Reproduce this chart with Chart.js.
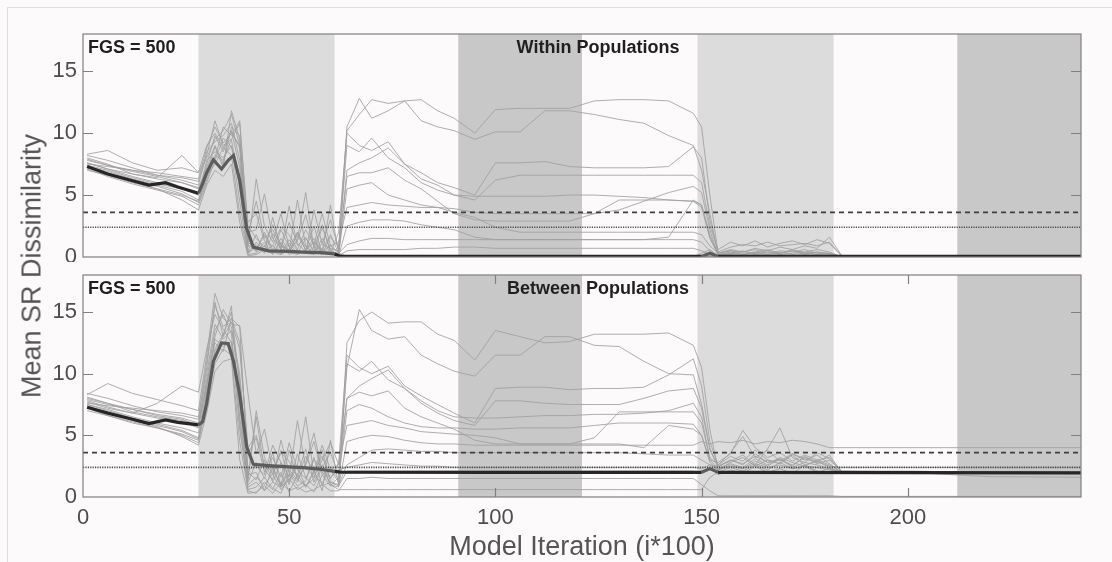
<!DOCTYPE html>
<html lang="en">
<head>
<meta charset="UTF-8">
<title>Mean SR Dissimilarity</title>
<script src="https://cdn.jsdelivr.net/npm/chart.js@4.4.1/dist/chart.umd.min.js"></script>
<style>
  html, body { margin: 0; padding: 0; background: #fdfafc; overflow: hidden; }
  #page { position: relative; width: 1112px; height: 562px; }
  #frame { position: absolute; left: 7px; top: 7px; right: 0; bottom: 0;
           border-top: 1px solid #dedede; border-left: 1px solid #dedede; }
  #topChart { position: absolute; left: 0; top: 0; }
  #botChart { position: absolute; left: 0; top: 262px; }
  #yTitle { position: absolute; left: 32px; top: 266px; transform: translate(-50%, -50%) rotate(-90deg);
            font: 27px "Liberation Sans", Arial, sans-serif; color: #555; white-space: nowrap; }
</style>
</head>
<body>
<div id="page">
  <div id="frame"></div>
  <canvas id="topChart" width="1112" height="262"></canvas>
  <canvas id="botChart" width="1112" height="300"></canvas>
  <div id="yTitle">Mean SR Dissimilarity</div>
</div>

<script>
// iteration grid (i*100) shared by all the single runs
const iters = [1, 6, 12, 18, 24, 28, 30, 32, 34, 36, 38, 40,
  42, 44, 46, 48, 50, 52, 54, 56, 58, 60, 62,
  64, 67, 70, 74, 78, 82, 86, 90, 95, 100, 106, 112, 118, 124, 130, 136, 142, 148,
  150, 152, 154, 157, 160, 163, 166, 169, 172, 175, 178, 181,
  184, 200, 220, 242];

// grid of the mean curve
const meanIters = [1, 6, 12, 16, 20, 23, 28, 29, 30, 31.6, 33.6, 35.2, 36.5, 38, 39.7, 41.3,
  45, 50, 53.4, 57.5, 61, 62.5, 100, 150, 152, 154, 242];
const withinMean = [7.3, 6.7, 6.15, 5.8, 6.0, 5.65, 5.15, 5.9, 6.8, 7.85, 7.1, 7.8, 8.2, 6.2, 2.3, 0.8,
  0.5, 0.45, 0.4, 0.35, 0.25, 0.05, 0.05, 0.05, 0.3, 0.05, 0.05];
const betweenMean = [7.28, 6.8, 6.3, 5.95, 6.25, 6.05, 5.85, 6.1, 7.6, 11.0, 12.5, 12.45, 11.0, 8.3, 4.06, 2.65,
  2.55, 2.45, 2.38, 2.25, 2.08, 2.02, 2.0, 2.0, 2.3, 2.0, 1.96];

// within populations, single runs
const within01 = [7.6, 7.1, 6.5, 6.0, 5.6, 5.0, 7.5, 9.8, 8.5, 10.2, 8.8, 1.2,
  0.6, 1.8, 0.4, 2.2, 0.8, 0.3, 1.5, 0.5, 0.2, 0.9, 0.4,
  10.2, 11.5, 12.7, 12.4, 12.6, 12.7, 11.8, 11.2, 10.0, 11.9, 12.0, 12.0, 12.0, 12.6, 12.7, 12.7, 12.6, 11.6,
  10.5, 5.0, 0.3, 0.5, 0.4, 0.6, 0.3, 0.5, 0.4, 0.6, 0.3, 0.2,
  0.05, 0.02, 0.02, 0.02];
const within02 = [8.2, 7.8, 7.2, 6.6, 6.4, 6.1, 8.2, 11.0, 9.0, 9.5, 10.8, 2.5,
  1.5, 0.8, 2.6, 1.0, 0.5, 1.8, 0.6, 1.2, 0.3, 1.6, 0.8,
  10.5, 12.8, 11.2, 11.8, 12.6, 11.0, 10.5, 10.2, 9.5, 10.1, 10.1, 11.8, 11.8, 11.5, 11.1, 10.8, 9.8, 9.0,
  7.0, 3.5, 0.2, 0.3, 0.5, 0.2, 0.4, 0.3, 0.6, 0.3, 0.4, 0.3,
  0.03, 0.03, 0.02, 0.02];
const within03 = [7.3, 6.9, 6.3, 5.8, 5.3, 4.6, 6.8, 8.9, 7.2, 11.8, 9.5, 0.8,
  6.3, 2.5, 1.2, 3.5, 0.8, 2.0, 0.5, 1.2, 0.6, 0.3, 2.0,
  10.0, 9.0, 8.6, 9.3, 7.5, 6.8, 6.0, 5.6, 5.0, 7.6, 7.6, 7.7, 7.3, 7.2, 7.2, 7.2, 7.3, 8.9,
  8.0, 3.0, 0.4, 0.8, 1.0, 0.9, 1.2, 0.9, 1.0, 1.1, 0.9, 1.2,
  0.1, 0.1, 0.05, 0.05];
const within04 = [8.0, 7.5, 6.7, 6.3, 6.0, 5.5, 7.0, 8.0, 10.5, 9.8, 11.0, 2.0,
  2.2, 5.1, 1.5, 0.7, 2.8, 1.1, 0.4, 3.8, 1.0, 0.7, 0.5,
  9.0, 8.5, 9.6, 8.0, 7.2, 6.0, 5.4, 5.0, 4.6, 6.2, 6.6, 6.6, 6.6, 6.6, 6.6, 6.6, 6.6, 6.6,
  6.0, 2.5, 0.6, 1.2, 0.9, 1.3, 0.8, 1.1, 1.3, 1.0, 1.4, 1.1,
  0.05, 0.05, 0.05, 0.05];
const within05 = [7.1, 6.5, 5.9, 5.4, 4.9, 4.2, 6.0, 7.8, 9.6, 8.9, 6.5, 0.4,
  1.0, 0.3, 1.9, 0.6, 4.1, 0.9, 1.6, 0.4, 2.4, 0.6, 0.2,
  7.0, 7.6, 8.0, 8.8, 7.5, 6.3, 5.8, 5.0, 4.9, 4.9, 4.9, 4.9, 5.0, 5.0, 4.9, 4.8, 4.6, 4.5,
  4.2, 1.8, 0.3, 0.5, 0.3, 0.4, 0.6, 0.3, 0.5, 0.4, 0.6, 0.4,
  0.02, 0.02, 0.02, 0.02];
const within06 = [7.8, 7.4, 7.0, 6.6, 6.2, 5.8, 8.5, 9.3, 9.8, 10.8, 7.8, 1.5,
  0.4, 1.2, 0.2, 1.5, 0.5, 4.6, 0.9, 0.3, 1.1, 3.0, 0.6,
  6.5, 6.8, 6.8, 7.2, 6.2, 5.5, 4.5, 3.5, 3.0, 2.9, 2.9, 2.9, 2.9, 3.5, 4.6, 4.6, 4.6, 4.5,
  4.0, 1.5, 0.2, 0.4, 0.2, 0.3, 0.5, 0.2, 0.3, 0.4, 0.2, 0.3,
  0.02, 0.02, 0.02, 0.02];
const within07 = [7.4, 7.0, 6.4, 5.9, 5.5, 5.0, 7.8, 8.5, 8.0, 9.0, 4.5, 0.3,
  0.8, 0.5, 0.9, 0.2, 0.6, 1.4, 5.2, 0.7, 0.4, 1.0, 0.2,
  5.5, 5.8, 6.0, 5.0, 4.6, 4.2, 4.0, 3.9, 3.6, 3.5, 3.5, 3.5, 3.5, 3.5, 3.8, 4.5, 5.2, 5.7,
  5.2, 2.2, 0.1, 0.3, 0.2, 0.4, 0.2, 0.3, 0.5, 0.2, 0.4, 0.2,
  0.02, 0.02, 0.02, 0.02];
const within08 = [7.5, 7.3, 7.0, 6.8, 6.5, 6.3, 8.8, 10.5, 9.2, 10.0, 9.0, 2.8,
  3.5, 1.3, 0.9, 2.4, 1.8, 0.6, 2.2, 1.0, 3.5, 0.9, 1.2,
  4.0, 4.2, 4.4, 4.2, 4.1, 4.0, 4.0, 3.6, 3.2, 2.4, 2.0, 2.0, 2.0, 2.0, 2.0, 2.0, 2.0, 2.0,
  1.8, 0.9, 0.3, 0.6, 0.4, 0.7, 0.5, 0.8, 0.6, 0.9, 0.7, 1.6,
  0.1, 0.05, 0.05, 0.05];
const within09 = [7.0, 6.6, 6.0, 5.5, 5.0, 4.5, 6.5, 7.5, 8.8, 8.2, 3.5, 0.2,
  0.3, 0.9, 0.4, 0.2, 1.1, 0.3, 0.5, 2.5, 0.3, 0.5, 0.1,
  2.5, 2.8, 3.0, 3.0, 2.9, 2.6, 2.4, 2.2, 1.6, 1.4, 1.4, 1.4, 1.4, 1.4, 1.4, 1.4, 1.6, 4.6,
  4.2, 1.6, 0.2, 0.3, 0.2, 0.3, 0.2, 0.4, 0.2, 0.3, 0.2, 0.3,
  0.02, 0.02, 0.02, 0.02];
const within10 = [7.9, 7.4, 6.9, 6.5, 6.0, 5.6, 7.2, 9.0, 7.5, 10.5, 9.8, 1.0,
  0.5, 2.0, 0.6, 0.3, 1.4, 0.5, 0.3, 0.8, 2.6, 0.4, 0.3,
  1.0, 1.3, 1.5, 1.5, 1.4, 1.4, 1.4, 1.4, 1.4, 1.4, 1.4, 1.4, 1.4, 1.4, 1.4, 1.4, 1.4, 1.4,
  1.2, 0.5, 0.1, 0.2, 0.1, 0.2, 0.1, 0.2, 0.1, 0.2, 0.1, 0.1,
  0.02, 0.02, 0.02, 0.02];
const within11 = [7.2, 6.8, 6.1, 5.5, 4.6, 3.8, 5.8, 7.0, 6.5, 7.5, 2.8, 0.1,
  0.2, 0.6, 0.3, 0.9, 0.2, 0.5, 0.3, 0.2, 0.6, 0.2, 0.1,
  0.5, 0.6, 0.6, 0.6, 0.6, 0.7, 0.7, 0.8, 0.8, 0.7, 0.7, 0.7, 0.7, 0.7, 0.7, 0.7, 0.7, 0.7,
  0.5, 0.2, 0.05, 0.05, 0.05, 0.05, 0.05, 0.05, 0.05, 0.05, 0.05, 0.05,
  0.02, 0.02, 0.02, 0.02];
const within12 = [8.3, 8.6, 7.6, 7.0, 7.2, 6.8, 8.0, 9.5, 10.2, 11.5, 9.0, 0.5,
  1.8, 0.4, 3.2, 0.6, 0.3, 2.0, 0.8, 0.3, 1.5, 0.3, 0.05,
  0.05, 0.05, 0.05, 0.05, 0.05, 0.05, 0.05, 0.05, 0.05, 0.05, 0.05, 0.05, 0.05, 0.05, 0.05, 0.05, 0.05, 0.05,
  0.05, 0.1, 0.05, 0.2, 0.05, 0.1, 0.05, 0.15, 0.05, 0.1, 0.05, 0.05,
  0.05, 0.05, 0.05, 0.05];
const within13 = [7.6, 7.1, 6.7, 6.4, 8.2, 6.8, 9.0, 10.0, 8.8, 10.2, 7.2, 1.8,
  4.5, 1.5, 2.2, 0.9, 0.5, 1.3, 3.4, 0.8, 0.6, 1.8, 0.3,
  0.05, 0.05, 0.05, 0.05, 0.05, 0.05, 0.05, 0.05, 0.05, 0.05, 0.05, 0.05, 0.05, 0.05, 0.05, 0.05, 0.05, 0.05,
  0.3, 0.6, 0.1, 0.1, 0.1, 0.1, 0.1, 0.1, 0.1, 0.1, 0.1, 0.1,
  0.05, 0.05, 0.05, 0.05];
const within14 = [7.3, 6.7, 6.2, 5.7, 5.1, 4.4, 6.2, 8.2, 7.8, 9.5, 5.5, 0.3,
  1.2, 0.5, 0.3, 1.2, 0.4, 0.2, 0.6, 1.5, 0.4, 4.2, 0.2,
  0.05, 0.05, 0.05, 0.05, 0.05, 0.05, 0.05, 0.05, 0.05, 0.05, 0.05, 0.05, 0.05, 0.05, 0.05, 0.05, 0.05, 0.05,
  0.05, 0.05, 0.05, 0.05, 0.05, 0.05, 0.05, 0.05, 0.05, 0.05, 0.05, 0.05,
  0.05, 0.05, 0.05, 0.05];

// between populations, single runs
const between01 = [7.8, 7.3, 6.8, 6.4, 6.1, 5.6, 9.5, 13.5, 14.8, 13.2, 6.5, 1.2,
  2.8, 1.5, 3.6, 0.9, 2.5, 1.8, 3.9, 1.2, 2.6, 1.0, 0.8,
  12.5, 14.3, 15.0, 14.1, 14.2, 14.2, 13.2, 12.7, 11.1, 13.5, 13.0, 12.5, 12.6, 13.2, 13.2, 13.2, 13.3, 12.3,
  10.5, 5.5, 2.2, 2.8, 3.2, 2.5, 3.0, 2.7, 3.4, 2.6, 2.9, 2.4,
  2.0, 2.0, 1.9, 1.9];
const between02 = [8.4, 8.0, 7.4, 6.9, 6.6, 6.3, 11.0, 15.5, 13.8, 14.5, 12.5, 3.5,
  4.8, 2.0, 3.2, 1.6, 4.4, 2.2, 1.5, 3.0, 2.4, 3.6, 1.8,
  10.5, 15.2, 13.5, 12.8, 13.0, 11.5, 10.8, 10.2, 9.8, 11.5, 11.5, 13.0, 13.0, 12.3, 12.2, 11.0, 10.0, 9.9,
  7.5, 4.0, 2.4, 3.0, 2.6, 3.5, 2.8, 3.1, 2.5, 3.3, 2.7, 3.0,
  2.1, 2.0, 2.0, 2.0];
const between03 = [7.5, 7.0, 6.4, 5.9, 5.4, 4.8, 8.5, 12.0, 13.2, 15.0, 9.0, 1.5,
  7.0, 3.2, 1.8, 3.8, 1.2, 2.5, 0.8, 2.0, 3.3, 1.5, 2.8,
  11.5, 10.5, 10.0, 10.6, 9.0, 8.2, 7.5, 6.8, 6.0, 8.8, 8.9, 8.9, 8.7, 8.8, 8.8, 8.9, 9.9, 11.2,
  9.0, 4.5, 2.6, 3.6, 4.9, 3.2, 3.8, 2.9, 3.5, 3.0, 3.4, 2.7,
  2.0, 2.0, 2.0, 2.0];
const between04 = [8.1, 7.6, 6.9, 6.5, 6.2, 5.9, 9.0, 13.0, 15.2, 14.0, 13.9, 8.4,
  3.5, 5.5, 2.2, 1.0, 3.8, 1.4, 2.6, 4.5, 1.8, 2.2, 1.2,
  10.8, 10.2, 11.0, 9.5, 8.8, 7.6, 6.8, 6.2, 5.8, 7.8, 7.8, 7.6, 7.5, 7.5, 7.5, 8.0, 8.6, 8.8,
  7.2, 3.8, 2.5, 2.9, 3.4, 2.6, 3.9, 5.6, 3.2, 2.8, 3.6, 3.1,
  2.0, 2.0, 2.0, 2.0];
const between05 = [7.2, 6.6, 6.0, 5.6, 5.0, 4.4, 7.8, 11.5, 12.5, 12.0, 7.5, 0.8,
  1.2, 0.5, 2.5, 0.8, 1.5, 0.6, 1.0, 0.4, 1.8, 0.9, 1.6,
  8.0, 9.0, 9.6, 10.3, 8.8, 7.8, 7.0, 6.5, 6.4, 6.4, 6.5, 6.6, 6.6, 6.7, 6.7, 6.8, 7.0, 7.6,
  6.5, 3.0, 2.3, 2.7, 2.4, 3.1, 2.6, 3.2, 2.8, 2.5, 3.0, 2.6,
  2.0, 2.0, 2.0, 2.0];
const between06 = [7.9, 7.5, 7.1, 6.7, 6.4, 6.0, 10.0, 14.0, 12.8, 13.5, 10.0, 2.2,
  2.5, 1.8, 4.2, 2.8, 1.6, 6.2, 2.4, 1.6, 3.0, 4.4, 2.6,
  8.0, 8.5, 8.2, 8.6, 7.2, 6.5, 6.0, 5.5, 4.6, 4.3, 4.3, 4.3, 4.3, 4.8, 6.9, 6.9, 6.9, 6.9,
  6.0, 3.2, 2.6, 3.3, 2.9, 3.8, 3.0, 2.7, 3.5, 3.1, 2.8, 3.4,
  2.0, 2.0, 2.0, 2.0];
const between07 = [7.5, 7.1, 6.5, 6.0, 5.6, 5.2, 8.8, 12.8, 12.2, 12.6, 5.5, 1.0,
  1.6, 1.0, 1.9, 0.6, 1.4, 2.6, 6.5, 1.8, 1.1, 2.4, 1.4,
  7.0, 7.5, 7.2, 6.5, 6.0, 5.7, 5.6, 5.6, 5.5, 5.5, 5.6, 5.6, 5.6, 5.8, 6.0, 6.0, 6.0, 5.9,
  5.0, 2.8, 2.2, 2.6, 2.3, 2.9, 2.5, 3.1, 2.4, 2.8, 2.6, 2.3,
  2.0, 2.0, 2.0, 2.0];
const between08 = [7.6, 7.4, 7.2, 7.0, 6.8, 6.5, 10.5, 15.8, 13.0, 14.2, 12.0, 4.0,
  5.0, 2.6, 2.0, 3.6, 2.9, 1.6, 3.3, 2.0, 4.2, 2.2, 2.6,
  5.8, 6.0, 6.2, 5.8, 5.6, 5.3, 5.2, 5.1, 5.0, 4.8, 4.3, 4.3, 4.3, 4.3, 4.3, 4.0, 5.8, 5.5,
  5.0, 3.0, 2.8, 3.5, 5.4, 4.0, 3.2, 3.6, 2.9, 3.4, 3.0, 3.2,
  2.1, 2.1, 2.0, 2.0];
const between09 = [7.0, 6.6, 6.1, 5.6, 5.1, 4.6, 7.5, 10.8, 12.0, 11.5, 4.5, 0.6,
  0.8, 1.6, 0.7, 0.3, 1.9, 0.9, 1.3, 3.2, 0.9, 1.2, 0.9,
  4.5, 4.8, 5.0, 4.9, 4.6, 4.4, 4.3, 4.3, 4.2, 4.2, 4.2, 4.2, 4.2, 4.2, 4.2, 4.2, 4.2, 4.2,
  4.5, 4.3, 4.5, 4.4, 4.6, 4.3, 4.5, 4.4, 4.6, 4.5, 4.3, 4.0,
  4.0, 4.0, 4.0, 4.0];
const between10 = [8.0, 7.6, 7.1, 6.6, 6.3, 5.8, 9.2, 12.5, 11.8, 14.5, 13.8, 2.0,
  1.4, 3.0, 1.2, 0.8, 2.2, 1.4, 0.9, 1.5, 3.8, 1.2, 1.0,
  2.6, 3.2, 3.8, 3.9, 3.8, 3.7, 3.7, 3.6, 3.6, 3.6, 3.6, 3.6, 3.6, 3.6, 3.6, 3.5, 3.4, 3.4,
  3.0, 2.6, 2.2, 2.5, 2.3, 2.7, 2.4, 2.6, 2.3, 2.5, 2.4, 2.2,
  2.0, 2.0, 2.0, 2.0];
const between11 = [7.3, 6.9, 6.2, 5.7, 4.9, 4.2, 6.8, 10.2, 11.0, 11.2, 3.0, 0.3,
  0.4, 0.9, 0.3, 1.2, 0.5, 0.8, 0.4, 0.6, 1.0, 0.5, 0.5,
  1.5, 1.5, 1.6, 1.5, 1.5, 1.5, 1.5, 1.5, 1.5, 1.5, 1.5, 1.5, 1.5, 1.5, 1.5, 1.5, 1.5, 1.5,
  1.0, 0.5, 0.1, 0.1, 0.1, 0.1, 0.1, 0.1, 0.1, 0.1, 0.1, 0.1,
  0.05, 0.05, 0.05, 0.05];
const between12 = [8.3, 9.2, 8.4, 7.9, 7.4, 7.0, 11.5, 16.5, 14.5, 13.8, 9.5, 1.8,
  2.0, 0.5, 1.2, 2.8, 1.0, 3.5, 1.6, 0.9, 2.4, 1.0, 0.6,
  0.6, 0.6, 0.6, 0.6, 0.6, 0.6, 0.6, 0.6, 0.6, 0.6, 0.6, 0.6, 0.6, 0.6, 0.6, 0.6, 0.6, 0.6,
  0.6, 1.6, 2.0, 2.4, 2.1, 2.6, 2.2, 2.8, 2.3, 2.5, 2.0, 2.3,
  2.0, 2.0, 1.65, 1.6];
const between13 = [7.7, 7.2, 6.8, 7.6, 9.0, 8.5, 12.0, 14.8, 13.6, 12.5, 8.0, 1.4,
  6.5, 2.2, 1.4, 4.6, 2.0, 1.2, 2.8, 5.2, 2.0, 1.6, 2.2,
  2.4, 2.6, 2.8, 2.7, 2.6, 2.5, 2.5, 2.4, 2.4, 2.4, 2.4, 2.4, 2.4, 2.4, 2.4, 2.4, 2.4, 2.4,
  2.3, 2.6, 2.5, 3.0, 2.7, 3.3, 2.8, 3.0, 2.6, 3.2, 2.9, 2.5,
  2.4, 2.4, 2.4, 2.4];
const between14 = [7.4, 6.8, 6.3, 5.8, 5.3, 4.7, 8.0, 11.8, 13.0, 15.5, 6.0, 0.5,
  0.3, 1.2, 0.6, 2.0, 0.4, 1.8, 0.8, 2.2, 0.5, 4.6, 0.9,
  2.1, 2.1, 2.1, 2.1, 2.1, 2.1, 2.1, 2.1, 2.1, 2.1, 2.1, 2.1, 2.1, 2.1, 2.1, 2.1, 2.1, 2.1,
  2.0, 2.4, 1.8, 2.2, 1.9, 2.5, 2.0, 2.3, 1.9, 2.6, 2.1, 2.0,
  2.0, 2.0, 1.9, 1.9];

const withinRuns = [within01, within02, within03, within04, within05, within06, within07,
  within08, within09, within10, within11, within12, within13, within14];
const betweenRuns = [between01, between02, between03, between04, between05, between06, between07,
  between08, between09, between10, between11, between12, between13, between14];

// shaded phases
const bandFrom = [28, 91, 149, 212];
const bandTo = [61, 121, 182, 242];
const bandKind = ['light', 'dark', 'light', 'dark'];

const dashedLevel = 3.6;
const dottedLevel = 2.4;
const xMin = 0, xMax = 242, yMin = 0, yMax = 18;
const xTickValues = [0, 50, 100, 150, 200];
const yTickValues = [0, 5, 10, 15];

const FONT = '"Liberation Sans", Arial, Helvetica, sans-serif';

function inLightBand(v) {
  return bandFrom.some((f, k) => bandKind[k] === 'light' && v >= f && v <= bandTo[k]);
}

// shading, box, inside ticks and panel labels
const panelDecor = {
  id: 'panelDecor',
  beforeDatasetsDraw(chart) {
    const { ctx, chartArea: a, scales: { x } } = chart;
    ctx.save();
    bandFrom.forEach((from, k) => {
      const x0 = x.getPixelForValue(from);
      const x1 = x.getPixelForValue(bandTo[k]);
      ctx.fillStyle = bandKind[k] === 'dark' ? '#c8c8c8' : '#dcdcdc';
      ctx.fillRect(x0, a.top, x1 - x0, a.bottom - a.top);
    });
    ctx.restore();
  },
  afterDatasetsDraw(chart, args, opts) {
    const { ctx, chartArea: a, scales: { x, y } } = chart;
    ctx.save();
    ctx.strokeStyle = '#808080';
    ctx.lineWidth = 1.2;
    ctx.beginPath();
    y.ticks.forEach(t => {
      if (t.value === yMin) return;
      const py = Math.round(y.getPixelForValue(t.value)) + 0.5;
      ctx.moveTo(a.left, py); ctx.lineTo(a.left + 10, py);
      ctx.moveTo(a.right, py); ctx.lineTo(a.right - 10, py);
    });
    if (opts.xTicks) {
      x.ticks.forEach(t => {
        if (t.value === xMin) return;
        const px = Math.round(x.getPixelForValue(t.value)) + 0.5;
        ctx.moveTo(px, a.top); ctx.lineTo(px, a.top + 9);
        ctx.moveTo(px, a.bottom); ctx.lineTo(px, a.bottom - 9);
      });
    }
    ctx.stroke();
    ctx.strokeRect(a.left, a.top, a.right - a.left, a.bottom - a.top);

    ctx.fillStyle = '#1f1f1f';
    ctx.font = 'bold 18px ' + FONT;
    ctx.textBaseline = 'middle';
    ctx.textAlign = 'left';
    ctx.fillText(opts.corner, a.left + 5, a.top + 14);
    ctx.textAlign = 'center';
    ctx.fillText(opts.title, a.left + 515, a.top + 14);
    ctx.restore();
  }
};

function makePanel(id, runs, mean, decor, showX) {
  const datasets = [];
  datasets.push({
    data: meanIters.map((v, k) => ({ x: v, y: mean[k] })),
    borderColor: '#262626', borderWidth: 3.2, order: 0,
    segment: { borderColor: c => inLightBand((c.p0.parsed.x + c.p1.parsed.x) / 2) ? '#5c5c5c' : '#262626' }
  });
  datasets.push({
    data: [{ x: xMin, y: dashedLevel }, { x: xMax, y: dashedLevel }],
    borderColor: '#3f3f3f', borderWidth: 1.6, borderDash: [5, 4], order: 1
  });
  datasets.push({
    data: [{ x: xMin, y: dottedLevel }, { x: xMax, y: dottedLevel }],
    borderColor: '#4a4a4a', borderWidth: 1.6, borderDash: [1.2, 1.2], order: 1
  });
  runs.forEach(r => datasets.push({
    data: iters.map((v, k) => ({ x: v, y: r[k] })),
    borderColor: 'rgba(160,160,160,0.85)', borderWidth: 1, order: 2
  }));

  return new Chart(document.getElementById(id), {
    type: 'line',
    data: { datasets },
    options: {
      responsive: false,
      animation: false,
      events: [],
      layout: { padding: { top: showX ? 13 : 34, right: 31, bottom: showX ? 0 : 5, left: 0 } },
      elements: { point: { radius: 0 }, line: { tension: 0, fill: false } },
      plugins: { legend: { display: false }, tooltip: { enabled: false }, panelDecor: decor },
      scales: {
        x: {
          type: 'linear', min: xMin, max: xMax, display: showX,
          afterBuildTicks: s => { s.ticks = xTickValues.map(v => ({ value: v })); },
          afterFit: s => {
            s.height = showX ? 65 : 0;
            s.paddingLeft = 0; s.paddingRight = 0; s.paddingTop = 0; s.paddingBottom = 0;
          },
          grid: { display: false, drawTicks: false },
          border: { display: false },
          ticks: { font: { family: FONT, size: 22 }, color: '#4d4d4d', padding: 8, maxRotation: 0 },
          title: { display: true, text: 'Model Iteration (i*100)', color: '#555',
                   font: { family: FONT, size: 27, lineHeight: 1 }, padding: { top: 0, bottom: 1 } }
        },
        y: {
          type: 'linear', min: yMin, max: yMax,
          afterBuildTicks: s => { s.ticks = yTickValues.map(v => ({ value: v })); },
          afterFit: s => {
            s.width = 83;
            s.paddingLeft = 0; s.paddingRight = 0; s.paddingTop = 0; s.paddingBottom = 0;
          },
          grid: { display: false, drawTicks: false },
          border: { display: false },
          ticks: { font: { family: FONT, size: 22 }, color: '#4d4d4d', padding: 6 }
        }
      }
    },
    plugins: [panelDecor]
  });
}

makePanel('topChart', withinRuns, withinMean, { corner: 'FGS = 500', title: 'Within Populations', xTicks: false }, false);
makePanel('botChart', betweenRuns, betweenMean, { corner: 'FGS = 500', title: 'Between Populations', xTicks: true }, true);
</script>
</body>
</html>
